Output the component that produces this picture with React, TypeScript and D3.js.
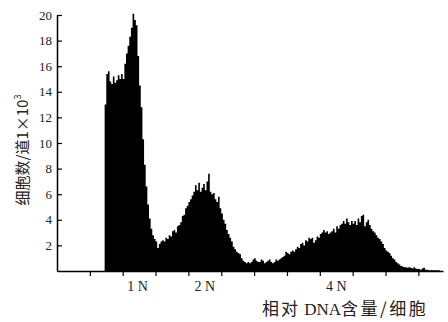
import React, { useRef, useEffect } from 'react';
import * as d3 from 'd3';

// cell counts (x1000) per channel
const firstChannel = 29;
const peak1N = [
  13.0, 15.4, 15.6, 14.8, 14.6, 15.2, 14.7, 14.9, 15.3, 15.0,
  15.4, 15.0, 16.2, 17.0, 17.6, 18.3, 19.0, 20.1, 19.6, 19.2,
  16.8, 14.5, 12.8, 10.3, 8.3, 6.6, 5.2, 4.1, 3.3, 2.8,
  2.5, 2.3,
];
const peak2N = [
  1.8, 2.1, 2.3, 2.4, 2.3, 2.6, 2.5, 2.8, 2.7, 3.1,
  3.2, 3.0, 3.5, 3.6, 3.8, 4.3, 4.4, 4.9, 5.1, 5.4,
  5.6, 5.9, 6.2, 6.7, 6.3, 6.9, 6.2, 6.5, 6.8, 6.3,
  7.0, 7.6, 6.2, 6.0, 6.1, 5.6, 5.4, 5.8, 4.9, 4.5,
  4.0, 3.7, 3.2, 2.9, 2.6, 2.3, 1.9, 1.7, 1.5, 1.4,
  1.3, 1.0,
];
const valley = [
  0.8, 0.7, 0.6, 0.7, 0.6, 0.7, 0.9, 1.0, 0.8, 0.7,
  0.7, 0.9, 0.8, 0.6, 0.7, 0.8, 0.9, 0.7, 0.6, 0.7,
  0.9, 0.8, 0.9, 1.0, 1.1, 1.2, 1.5, 1.4, 1.3, 1.5,
  1.6, 1.5, 1.7,
];
const peak4N = [
  1.9, 1.8, 2.1, 2.2, 2.0, 2.4, 2.3, 2.6, 2.5, 2.6,
  2.2, 2.4, 2.7, 2.6, 2.9, 3.0, 3.2, 3.0, 3.1, 2.9,
  3.0, 3.1, 3.3, 3.0, 3.5, 3.3, 3.6, 3.7, 3.9, 3.7,
  4.1, 3.8, 3.6, 3.9, 3.7, 3.9, 3.6, 4.1, 3.8, 4.3,
  4.4, 3.5, 3.8, 4.0, 3.6, 3.3, 3.1, 3.0, 2.8, 2.6,
  2.5, 2.3, 2.1, 1.8, 1.6, 1.5, 1.4, 1.2, 1.0, 0.9,
  0.7, 0.6, 0.5, 0.4, 0.35, 0.3, 0.3, 0.25, 0.3, 0.25,
  0.2, 0.3, 0.2, 0.15, 0.15, 0.1, 0.2, 0.25, 0.1, 0.1,
  0.05, 0.05, 0.05, 0.05, 0.05, 0.05, 0.05,
];

const yTicks = [2, 4, 6, 8, 10, 12, 14, 16, 18, 20];
const xTicks = [20, 40, 60, 80, 100, 120, 140, 160, 180, 200, 220];
const ploidyLabels = ['1 N', '2 N', '4 N'];
const ploidyChannels = [49, 90, 170];

const serif = '"Liberation Serif", "DejaVu Serif", serif';
const cjk = '"Noto Sans CJK SC", "Liberation Serif", serif';

const App = () => {
  const svgRef = useRef<SVGSVGElement>(null);

  useEffect(() => {
    const svg = d3.select(svgRef.current);
    svg.selectAll('*').remove();

    const x = d3.scaleLinear().domain([0, 235]).range([57, 443]);
    const y = d3.scaleLinear().domain([0, 20]).range([271, 15]);

    const counts = [...peak1N, ...peak2N, ...valley, ...peak4N];
    const data = counts.map((v, i) => ({ c: firstChannel + i, v }));
    data.push({ c: firstChannel + counts.length, v: counts[counts.length - 1] });

    // histogram
    svg.append('path')
      .datum(data)
      .attr('fill', '#000')
      .attr('d', d3.area<{ c: number; v: number }>()
        .curve(d3.curveStepAfter)
        .x(d => x(d.c))
        .y0(y(0))
        .y1(d => y(d.v)));

    // x axis
    const xAxis = svg.append('g')
      .attr('transform', `translate(0,${y(0)})`)
      .call(d3.axisBottom(x).tickValues(xTicks).tickFormat(() => '').tickSizeInner(5).tickSizeOuter(0));
    xAxis.select('.domain').attr('stroke-width', 1.5);
    xAxis.selectAll('.tick line').attr('stroke-width', 1.2);

    // y axis
    const yAxis = svg.append('g')
      .attr('transform', `translate(${x(0)},0)`)
      .call(d3.axisLeft(y).tickValues(yTicks).tickSizeInner(-5).tickSizeOuter(0).tickPadding(5));
    yAxis.select('.domain').attr('stroke-width', 1.5);
    yAxis.selectAll('.tick line').attr('stroke-width', 1.2);
    yAxis.selectAll('.tick text')
      .attr('font-family', serif)
      .attr('font-size', 13)
      .attr('fill', '#222');

    // ploidy labels
    svg.selectAll('.ploidy')
      .data(ploidyLabels)
      .enter()
      .append('text')
      .attr('x', (_, i) => x(ploidyChannels[i]))
      .attr('y', 291)
      .attr('text-anchor', 'middle')
      .attr('font-family', serif)
      .attr('font-size', 14)
      .attr('fill', '#222')
      .text(d => d);

    // x axis title
    const xt = svg.append('text')
      .attr('x', 262)
      .attr('y', 315)
      .attr('font-size', 17)
      .attr('fill', '#222');
    xt.append('tspan').attr('font-family', cjk).attr('letter-spacing', 2).text('相对');
    xt.append('tspan').attr('font-family', serif).attr('font-size', 17).text(' DNA');
    xt.append('tspan').attr('font-family', cjk).attr('letter-spacing', 2.5).text('含量/细胞');

    // y axis title
    const yt = svg.append('text')
      .attr('transform', 'translate(28,150) rotate(-90)')
      .attr('text-anchor', 'middle')
      .attr('font-family', cjk)
      .attr('font-size', 15)
      .attr('fill', '#222');
    yt.append('tspan').text('细胞数/道1×10');
    yt.append('tspan').attr('font-size', 9).attr('dy', -7).text('3');
  }, []);

  return (
    <svg
      ref={svgRef}
      width={448}
      height={322}
      style={{ position: 'absolute', left: 0, top: 0, background: '#fff' }}
    />
  );
};

export default App;
